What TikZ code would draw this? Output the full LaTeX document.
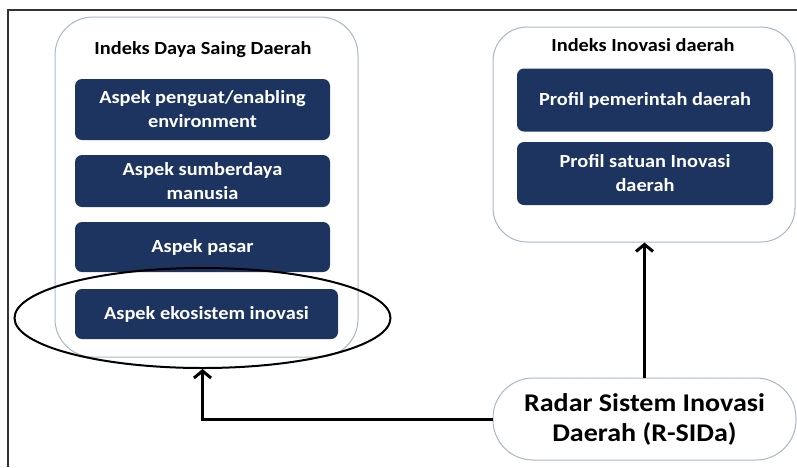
\documentclass[tikz,border=0pt]{standalone}
\usepackage{fontspec}
\setmainfont{Carlito}[FakeStretch=1.1]
\usetikzlibrary{shapes.geometric,arrows.meta,positioning}
\definecolor{navy}{HTML}{1D3461}
\definecolor{cborder}{HTML}{A9B7CA}
\tikzset{
  container/.style={draw=cborder, line width=1pt, fill=white, rounded corners=38pt, inner sep=0pt},
  bluebox/.style={fill=navy, rounded corners=7pt, text=white, font=\fontsize{18.5}{24}\selectfont\bfseries, align=center, inner sep=0pt},
  title/.style={font=\fontsize{18.5}{22}\selectfont\bfseries, text=black, inner sep=0pt},
  radar/.style={draw=cborder, line width=1pt, fill=white, rounded corners=40pt, font=\fontsize{25.5}{30}\selectfont\bfseries, align=center, inner sep=0pt, minimum width=303pt, minimum height=82pt},
  hilite/.style={draw=black, line width=2pt, ellipse, inner sep=0pt},
  bigarrow/.style={draw=black, line width=3pt, -{Straight Barb[length=7pt,width=17pt]}},
}
\begin{document}
\begin{tikzpicture}[x=1pt,y=-1pt]
\useasboundingbox (0,0) rectangle (797,467);
% frame
\draw[line width=1.5pt, draw=black!80] (8,467) -- (8,10) -- (797,10);
% left container
\node[container, minimum width=303pt, minimum height=340pt] (cL) at (206.5,187) {};
\node[title] (tL) at (203,50) {Indeks Daya Saing Daerah};
\node[bluebox, minimum width=255pt, minimum height=61pt] (b1) at (202.5,109.5) {Aspek penguat/enabling\\environment};
\node[bluebox, minimum width=255pt, minimum height=52pt] (b2) at (202.5,181) {Aspek sumberdaya\\manusia};
\node[bluebox, minimum width=255pt, minimum height=50pt] (b3) at (202.5,247) {Aspek pasar};
\node[bluebox, minimum width=263pt, minimum height=50pt] (b4) at (206.5,314) {Aspek ekosistem inovasi};
% right container
\node[container, rounded corners=34pt, minimum width=302pt, minimum height=215pt] (cR) at (644,134.5) {};
\node[title] (tR) at (643,45) {Indeks Inovasi daerah};
\node[bluebox, minimum width=256pt, minimum height=63pt] (p1) at (645,100) {Profil pemerintah daerah};
\node[bluebox, minimum width=256pt, minimum height=63pt] (p2) at (645,173.5) {Profil satuan Inovasi\\daerah};
% highlight ellipse
\node[hilite, minimum width=376pt, minimum height=100pt] (hl) at (202.5,318) {};
% radar
\node[radar] (rs) at (644.5,419) {Radar Sistem Inovasi\\Daerah (R-SIDa)};
% arrows
\draw[bigarrow] (rs.west) -| (hl.south);
\draw[bigarrow] (rs.north) -- (rs.north |- cR.south);
\end{tikzpicture}
\end{document}
